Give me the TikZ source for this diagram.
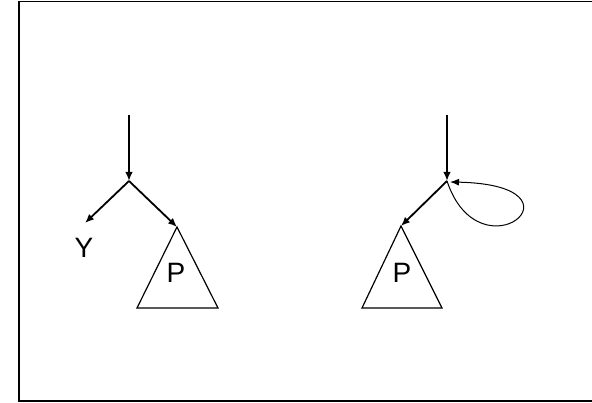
\documentclass[tikz,border=0pt]{standalone}
\usepackage{fontspec}
\setmainfont{Liberation Sans}
\usetikzlibrary{arrows.meta}
\begin{document}
\begin{tikzpicture}[x=1pt, y=-1pt, >={Latex[length=9pt,width=7.5pt]},
    thickarrow/.style={->, line width=1.8pt},
    loopline/.style={->, line width=1pt, >={Latex[length=9pt,width=7pt]}},
    subtree/.style={line width=1.2pt, line join=miter},
    lbl/.style={font=\fontsize{28}{30}\selectfont, inner sep=0pt}]
    \useasboundingbox (0,0) rectangle (592,403);
    % Rahmen
    \draw[line width=1.5pt] (592,1.5) -- (19,1.5) -- (19,401) -- (592,401);

    % 1. linker Baum
    \coordinate (topL) at (129,115);
    \coordinate (midL) at (129,181);
    \coordinate (apexL) at (177,227);
    \coordinate (tipY) at (85,223);
    \node[lbl] (yL) at (84,248) {Y};
    \draw[thickarrow] (topL) -- (midL);
    \draw[thickarrow] (midL) -- (tipY);
    \draw[thickarrow] (midL) -- (apexL);
    \draw[subtree] (apexL) -- (137,308) -- (218,308) -- cycle;
    \node[lbl] (pL) at (176,273) {P};

    % 2. rechter Baum mit Schleife
    \coordinate (topR) at (447,115);
    \coordinate (midR) at (447,181);
    \coordinate (apexR) at (401,226);
    \draw[thickarrow] (topR) -- (midR);
    \draw[thickarrow] (midR) -- (apexR);
    \draw[subtree] (apexR) -- (362,308) -- (442,308) -- cycle;
    \node[lbl] (pR) at (402,273) {P};
    \draw[loopline] (midR) .. controls (480,280) and (595,185) .. (450,182);
\end{tikzpicture}
\end{document}
